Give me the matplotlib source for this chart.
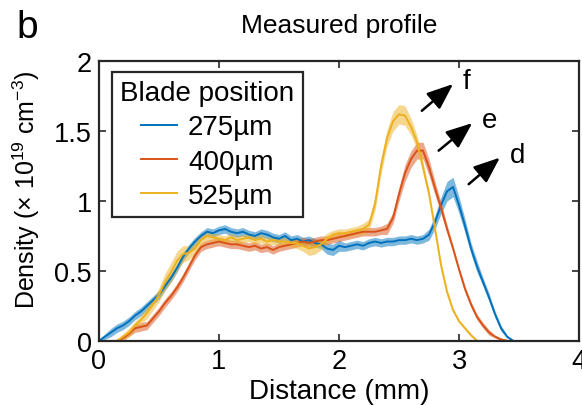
import matplotlib
matplotlib.use("Agg")
import matplotlib.pyplot as plt
import numpy as np

plt.rcParams['font.family'] = ['Liberation Sans', 'DejaVu Sans']
plt.rcParams['mathtext.fontset'] = 'custom'
plt.rcParams['mathtext.rm'] = 'Liberation Sans'

# Density profiles (x 1e19 cm^-3) vs distance (mm) for three blade positions
dist_275 = [0.0, 0.05, 0.1, 0.15, 0.2, 0.25, 0.3, 0.35, 0.4, 0.45, 0.5, 0.55, 0.6, 0.65, 0.7, 0.75,
            0.8, 0.85, 0.9, 0.95, 1.0, 1.05, 1.1, 1.15, 1.2, 1.25, 1.3, 1.35, 1.4, 1.45, 1.5, 1.55,
            1.6, 1.65, 1.7, 1.75, 1.8, 1.85, 1.9, 1.95, 2.0, 2.05, 2.1, 2.15, 2.2, 2.25, 2.3, 2.35,
            2.4, 2.45, 2.5, 2.55, 2.6, 2.65, 2.7, 2.75, 2.8, 2.85, 2.9, 2.95, 3.0, 3.05, 3.1, 3.15,
            3.2, 3.25, 3.3, 3.35, 3.4, 3.45]
dens_275 = [0.0, 0.03, 0.06, 0.09, 0.11, 0.14, 0.18, 0.21, 0.25, 0.29, 0.33, 0.39, 0.45, 0.52, 0.60, 0.66,
            0.71, 0.75, 0.78, 0.77, 0.79, 0.80, 0.78, 0.77, 0.78, 0.76, 0.75, 0.77, 0.76, 0.74, 0.73, 0.75,
            0.72, 0.73, 0.71, 0.72, 0.70, 0.69, 0.66, 0.65, 0.68, 0.67, 0.68, 0.69, 0.68, 0.70, 0.71, 0.70,
            0.71, 0.71, 0.72, 0.72, 0.73, 0.72, 0.73, 0.76, 0.85, 0.97, 1.07, 1.10, 0.97, 0.82, 0.66, 0.53,
            0.42, 0.31, 0.19, 0.09, 0.03, 0.0]
err_275 = [0.01, 0.02, 0.03, 0.03, 0.03, 0.03, 0.03, 0.03, 0.03, 0.03, 0.03, 0.03, 0.03, 0.03, 0.03, 0.03,
           0.03, 0.03, 0.03, 0.03, 0.03, 0.03, 0.03, 0.03, 0.03, 0.03, 0.03, 0.03, 0.03, 0.03, 0.03, 0.03,
           0.03, 0.03, 0.03, 0.03, 0.03, 0.03, 0.04, 0.04, 0.04, 0.03, 0.03, 0.03, 0.03, 0.03, 0.03, 0.03,
           0.03, 0.03, 0.03, 0.03, 0.03, 0.03, 0.03, 0.04, 0.05, 0.06, 0.07, 0.07, 0.06, 0.05, 0.04, 0.04,
           0.03, 0.03, 0.02, 0.02, 0.01, 0.01]

dist_400 = [0.15, 0.2, 0.25, 0.3, 0.35, 0.4, 0.45, 0.5, 0.55, 0.6, 0.65, 0.7, 0.75, 0.8, 0.85, 0.9,
            0.95, 1.0, 1.05, 1.1, 1.15, 1.2, 1.25, 1.3, 1.35, 1.4, 1.45, 1.5, 1.55, 1.6, 1.65, 1.7,
            1.75, 1.8, 1.85, 1.9, 1.95, 2.0, 2.05, 2.1, 2.15, 2.2, 2.25, 2.3, 2.35, 2.4, 2.45, 2.5,
            2.55, 2.6, 2.65, 2.7, 2.75, 2.8, 2.85, 2.9, 2.95, 3.0, 3.05, 3.1, 3.15, 3.2, 3.25, 3.3,
            3.35, 3.4]
dens_400 = [0.0, 0.02, 0.05, 0.09, 0.10, 0.11, 0.16, 0.21, 0.27, 0.32, 0.38, 0.45, 0.53, 0.61, 0.67, 0.69,
            0.70, 0.71, 0.70, 0.69, 0.69, 0.68, 0.67, 0.68, 0.66, 0.67, 0.65, 0.67, 0.68, 0.69, 0.70, 0.71,
            0.70, 0.71, 0.72, 0.72, 0.73, 0.74, 0.75, 0.76, 0.77, 0.78, 0.78, 0.78, 0.79, 0.80, 0.88, 1.05,
            1.20, 1.30, 1.36, 1.36, 1.24, 1.09, 0.95, 0.80, 0.66, 0.51, 0.37, 0.26, 0.17, 0.11, 0.06, 0.03,
            0.01, 0.0]
err_400 = [0.01, 0.02, 0.02, 0.03, 0.03, 0.03, 0.03, 0.03, 0.03, 0.03, 0.03, 0.03, 0.03, 0.03, 0.03, 0.03,
           0.03, 0.03, 0.03, 0.03, 0.03, 0.03, 0.03, 0.03, 0.03, 0.03, 0.03, 0.03, 0.03, 0.03, 0.03, 0.03,
           0.03, 0.03, 0.03, 0.03, 0.03, 0.03, 0.03, 0.03, 0.03, 0.03, 0.03, 0.03, 0.03, 0.04, 0.04, 0.05,
           0.06, 0.06, 0.06, 0.06, 0.06, 0.05, 0.04, 0.03, 0.02, 0.02, 0.02, 0.02, 0.02, 0.02, 0.02, 0.01,
           0.01, 0.01]

dist_525 = [0.15, 0.2, 0.25, 0.3, 0.35, 0.4, 0.45, 0.5, 0.55, 0.6, 0.65, 0.7, 0.75, 0.8, 0.85, 0.9,
            0.95, 1.0, 1.05, 1.1, 1.15, 1.2, 1.25, 1.3, 1.35, 1.4, 1.45, 1.5, 1.55, 1.6, 1.65, 1.7,
            1.75, 1.8, 1.85, 1.9, 1.95, 2.0, 2.05, 2.1, 2.15, 2.2, 2.25, 2.3, 2.35, 2.4, 2.45, 2.5,
            2.55, 2.6, 2.65, 2.7, 2.75, 2.8, 2.85, 2.9, 2.95, 3.0, 3.05, 3.1, 3.15]
dens_525 = [0.0, 0.03, 0.06, 0.11, 0.15, 0.20, 0.26, 0.33, 0.42, 0.49, 0.57, 0.62, 0.63, 0.66, 0.72, 0.75,
            0.74, 0.73, 0.72, 0.74, 0.72, 0.73, 0.74, 0.72, 0.73, 0.71, 0.72, 0.71, 0.71, 0.70, 0.70, 0.68,
            0.66, 0.67, 0.69, 0.73, 0.76, 0.77, 0.77, 0.78, 0.79, 0.80, 0.83, 0.98, 1.25, 1.45, 1.57, 1.62,
            1.61, 1.53, 1.42, 1.24, 1.05, 0.80, 0.54, 0.35, 0.22, 0.14, 0.09, 0.04, 0.0]
err_525 = [0.01, 0.02, 0.03, 0.03, 0.03, 0.04, 0.04, 0.05, 0.06, 0.07, 0.07, 0.06, 0.05, 0.04, 0.04, 0.03,
           0.03, 0.03, 0.03, 0.03, 0.03, 0.03, 0.03, 0.03, 0.03, 0.03, 0.03, 0.03, 0.03, 0.03, 0.04, 0.04,
           0.05, 0.05, 0.04, 0.04, 0.03, 0.03, 0.03, 0.03, 0.03, 0.04, 0.04, 0.05, 0.06, 0.06, 0.07, 0.07,
           0.07, 0.06, 0.05, 0.04, 0.03, 0.02, 0.02, 0.02, 0.01, 0.01, 0.01, 0.01, 0.01]

labels = ['275µm', '400µm', '525µm']
colors = ['#0072BD', '#D95319', '#EDB120']

# Arrow annotations: (tail x, tail y, head x, head y, letter)
arrow_tail_x = [2.69, 2.83, 3.08]
arrow_tail_y = [1.645, 1.36, 1.12]
arrow_head_x = [2.95, 3.11, 3.34]
arrow_head_y = [1.836, 1.557, 1.31]
arrow_letters = ['f', 'e', 'd']

fig = plt.figure(figsize=(5.82, 4.06), dpi=100)
ax = fig.add_axes([0.170, 0.158, 0.825, 0.689])

series = [(dist_275, dens_275, err_275), (dist_400, dens_400, err_400), (dist_525, dens_525, err_525)]
handles = []
for (x, y, e), c, lab in zip(series, colors, labels):
    x = np.asarray(x); y = np.asarray(y); e = np.asarray(e)
    ax.fill_between(x, np.clip(y - e, 0, None), y + e, color=c, alpha=0.5, lw=0)
    h, = ax.plot(x, y, color=c, lw=1.4, label=lab)
    handles.append(h)

for tx, ty, hx, hy, lt in zip(arrow_tail_x, arrow_tail_y, arrow_head_x, arrow_head_y, arrow_letters):
    ax.annotate('', xy=(hx, hy), xytext=(tx, ty),
                arrowprops=dict(arrowstyle='-|>,head_length=0.8,head_width=0.32', color='k',
                                lw=1.8, mutation_scale=20, shrinkA=0, shrinkB=0))
    ax.text(hx + 0.08, hy + 0.02, lt, fontsize=20, ha='left', va='center')

ax.set_xlim(0, 4)
ax.set_ylim(0, 2)
ax.set_xticks([0, 1, 2, 3, 4])
ax.set_yticks([0, 0.5, 1, 1.5, 2])
ax.set_yticklabels(['0', '0.5', '1', '1.5', '2'])
ax.tick_params(direction='in', length=5, width=1.2, top=True, right=True,
               labelsize=19.5, colors='#262626', labelcolor='black')
ax.tick_params(axis='x', pad=5)
ax.tick_params(axis='y', pad=5)
for s in ax.spines.values():
    s.set_linewidth(1.6)
    s.set_color('#262626')

ax.set_xlabel('Distance (mm)', fontsize=20, labelpad=3)
ax.set_ylabel(r'Density (× 10$^{\mathregular{19}}$ cm$^{\mathregular{-3}}$)', fontsize=18)
ax.yaxis.set_label_coords(-0.118, 0.545)
ax.set_title('Measured profile', fontsize=19, pad=21)
fig.text(0.029, 0.93, 'b', fontsize=28, ha='left', va='center')

leg = ax.legend(handles=handles, title='Blade position', loc='upper left',
                bbox_to_anchor=(0.027, 0.962), fontsize=20, title_fontsize=20,
                frameon=True, fancybox=False, edgecolor='#262626', framealpha=1,
                handlelength=1.3, handletextpad=0.4, borderpad=0.3, labelspacing=0.3,
                borderaxespad=0)
leg.get_frame().set_linewidth(1.6)

fig.savefig('out.png', dpi=100)
